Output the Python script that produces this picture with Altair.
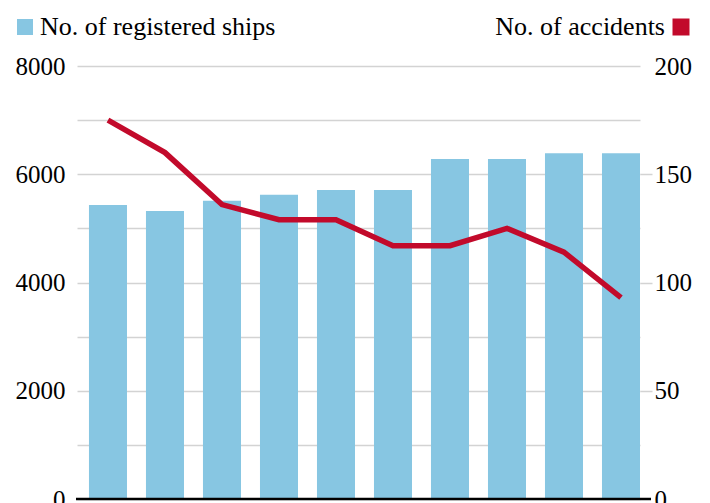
import altair as alt
import pandas as pd

years = ["2009", "2010", "2011", "2012", "2013", "2014", "2015", "2016", "2017", "2018"]
ships = [5430, 5320, 5510, 5620, 5710, 5710, 6280, 6280, 6390, 6390]
accidents = [175, 160, 136, 129, 129, 117, 117, 125, 114, 93]

BLUE = "#87C6E2"
RED = "#C20A2B"
GRID = "#d3d3d3"
FONT = "Liberation Serif"
FS = 25
LFS = 26

df = pd.DataFrame({"year": years, "ships": ships, "accidents": accidents})

xenc = alt.X(
    "year:N",
    sort=years,
    scale=alt.Scale(paddingInner=0.333, paddingOuter=0.105, align=1),
    axis=alt.Axis(labels=False, ticks=False, title=None, domain=False, grid=False),
)

left_scale = alt.Scale(domain=[0, 8000], nice=False)
left_axis = alt.Axis(
    values=list(range(0, 8001, 1000)),
    labelExpr="datum.value % 2000 == 0 ? datum.label : ''",
    format="d", grid=True, gridColor=GRID, gridWidth=1.5,
    domain=False, ticks=False, labelPadding=12, title=None,
    orient="left",
)

bars = alt.Chart(df).mark_bar(color=BLUE).encode(
    x=xenc,
    y=alt.Y("ships:Q", scale=left_scale, axis=left_axis),
)

baseline = alt.Chart(pd.DataFrame({"v": [0]})).mark_rule(
    color="black", strokeWidth=2.5
).encode(
    y=alt.Y("v:Q", scale=left_scale, axis=left_axis),
    x=alt.value(-1),
    x2=alt.value(574),
)

left_layer = alt.layer(bars, baseline)

line = alt.Chart(df).mark_line(color=RED, strokeWidth=5.5).encode(
    x=xenc,
    y=alt.Y(
        "accidents:Q",
        scale=alt.Scale(domain=[0, 200], nice=False),
        axis=alt.Axis(
            values=[0, 50, 100, 150, 200], grid=False, domain=False,
            ticks=True, tickSize=12,
            tickColor={"condition": {"test": "datum.value == 200 || datum.value == 0",
                                     "value": "transparent"}, "value": GRID},
            tickWidth=1.5,
            labelPadding=2, title=None, orient="right",
        ),
    ),
)

leg_left = pd.DataFrame({"t": ["No. of registered ships"]})
leg_right = pd.DataFrame({"t": ["No. of accidents"]})

sq_left = alt.Chart(leg_left).mark_square(size=256, color=BLUE, opacity=1).encode(
    x=alt.value(-52), y=alt.value(-39))
txt_left = alt.Chart(leg_left).mark_text(
    align="left", baseline="middle", font=FONT, fontSize=LFS, color="black"
).encode(x=alt.value(-37), y=alt.value(-39), text="t:N")
sq_right = alt.Chart(leg_right).mark_square(size=289, color=RED, opacity=1).encode(
    x=alt.value(604), y=alt.value(-39))
txt_right = alt.Chart(leg_right).mark_text(
    align="right", baseline="middle", font=FONT, fontSize=LFS, color="black"
).encode(x=alt.value(588), y=alt.value(-39), text="t:N")

chart = (
    alt.layer(left_layer, line, sq_left, txt_left, sq_right, txt_right)
    .resolve_scale(y="independent")
    .properties(
        width=563, height=433,
        autosize=alt.AutoSizeParams(type="none"),
        padding={"left": 69, "top": 58, "right": 60, "bottom": 10},
    )
    .configure_view(stroke=None)
    .configure_axis(labelFont=FONT, labelFontSize=FS, labelColor="black")
)

chart.save("out.html", embed_options={"renderer": "svg", "actions": False})
